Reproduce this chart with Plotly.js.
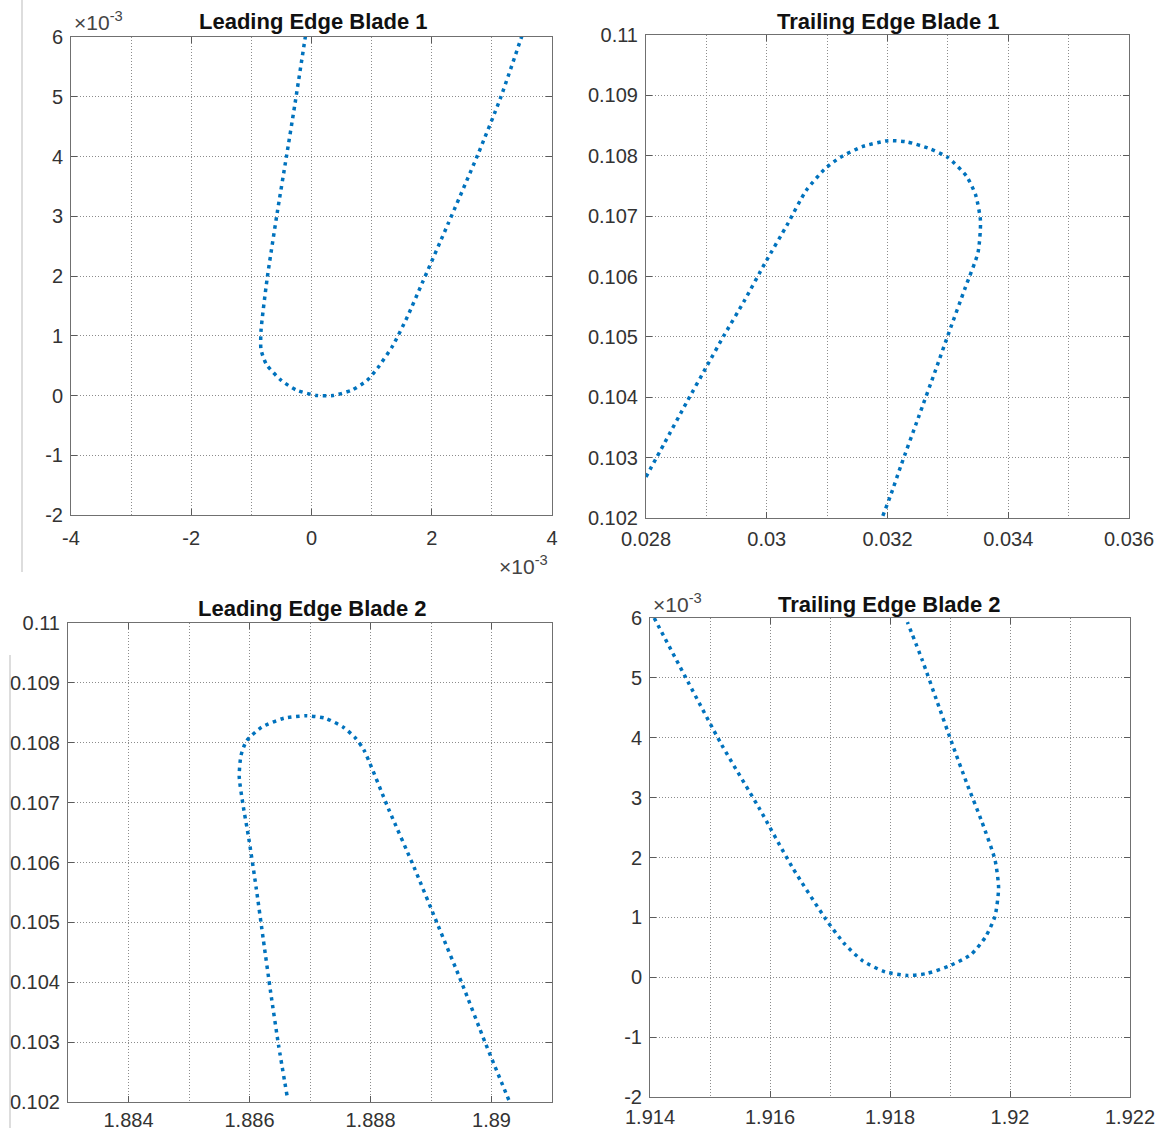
<!DOCTYPE html>
<html>
<head>
<meta charset="utf-8">
<script src="https://cdn.plot.ly/plotly-3.0.1.min.js"></script>
<style>html,body{margin:0;padding:0;background:#fff;}#chart{width:1162px;height:1128px;}</style>
</head>
<body>
<div id="chart"></div>
<script>
// ---- Data ----
// Leading Edge Blade 1 (both axes in units of 1e-3)
const le1X = [-0.10, -0.28, -0.42, -0.57, -0.74, -0.84, -0.84, -0.75, -0.50, -0.25, 0.09, 0.36, 0.67, 0.92, 1.10, 1.35, 1.60, 1.84, 2.27, 2.77, 3.14, 3.50];
const le1Y = [6.02, 4.85, 3.98, 3.06, 1.94, 1.08, 0.77, 0.52, 0.25, 0.09, 0.00, 0.00, 0.09, 0.25, 0.46, 0.83, 1.33, 1.88, 2.87, 4.04, 4.97, 6.02];

// Trailing Edge Blade 1
const te1X = [0.02800, 0.02830, 0.02867, 0.02901, 0.02929, 0.02963, 0.02997, 0.03034, 0.03065, 0.03096, 0.03121, 0.03158, 0.03201, 0.03232, 0.03269, 0.03300, 0.03331, 0.03346, 0.03354, 0.03350, 0.03329, 0.03302, 0.03280, 0.03251, 0.03222, 0.03205, 0.03192];
const te1Y = [0.10268, 0.10323, 0.10391, 0.10452, 0.10502, 0.10560, 0.10622, 0.10686, 0.10742, 0.10778, 0.10797, 0.10815, 0.10825, 0.10823, 0.10812, 0.10797, 0.10766, 0.10735, 0.10692, 0.10640, 0.10582, 0.10508, 0.10446, 0.10366, 0.10286, 0.10237, 0.10203];

// Leading Edge Blade 2
const le2X = [1.88662, 1.88648, 1.88635, 1.88623, 1.88611, 1.88599, 1.88589, 1.88583, 1.88586, 1.88595, 1.88620, 1.88657, 1.88694, 1.88725, 1.88755, 1.88775, 1.88789, 1.88830, 1.88872, 1.88912, 1.88952, 1.88990, 1.89030];
const le2Y = [0.10211, 0.10295, 0.10383, 0.10470, 0.10558, 0.10639, 0.10698, 0.10744, 0.10779, 0.10803, 0.10826, 0.10841, 0.10845, 0.10841, 0.10826, 0.10808, 0.10788, 0.10689, 0.10592, 0.10494, 0.10396, 0.10298, 0.10200];

// Trailing Edge Blade 2 (y in units of 1e-3)
const te2X = [1.91407, 1.91463, 1.91519, 1.91581, 1.91637, 1.91693, 1.91724, 1.91755, 1.91792, 1.91829, 1.91860, 1.91897, 1.91935, 1.91959, 1.91975, 1.91981, 1.91975, 1.91953, 1.91928, 1.91904, 1.91879, 1.91854, 1.91829];
const te2Y = [6.00, 4.94, 3.89, 2.84, 1.84, 0.97, 0.56, 0.27, 0.09, 0.03, 0.06, 0.18, 0.38, 0.67, 1.02, 1.49, 1.96, 2.60, 3.24, 3.89, 4.59, 5.29, 5.93];

// Titles
const titles = ["Leading Edge Blade 1", "Trailing Edge Blade 1", "Leading Edge Blade 2", "Trailing Edge Blade 2"];

// Tick values / labels
const p1xTicks = [-4, -2, 0, 2, 4];          const p1xText = ["-4", "-2", "0", "2", "4"];
const p1yTicks = [-2, -1, 0, 1, 2, 3, 4, 5, 6]; const p1yText = ["-2", "-1", "0", "1", "2", "3", "4", "5", "6"];
const p2xTicks = [0.028, 0.030, 0.032, 0.034, 0.036]; const p2xText = ["0.028", "0.03", "0.032", "0.034", "0.036"];
const p2yTicks = [0.102, 0.103, 0.104, 0.105, 0.106, 0.107, 0.108, 0.109, 0.110];
const p2yText = ["0.102", "0.103", "0.104", "0.105", "0.106", "0.107", "0.108", "0.109", "0.11"];
const p3xTicks = [1.884, 1.886, 1.888, 1.890]; const p3xText = ["1.884", "1.886", "1.888", "1.89"];
const p3yTicks = p2yTicks; const p3yText = p2yText;
const p4xTicks = [1.914, 1.916, 1.918, 1.920, 1.922]; const p4xText = ["1.914", "1.916", "1.918", "1.92", "1.922"];
const p4yTicks = p1yTicks; const p4yText = p1yText;
const exponentLabel = "×10<sup>-3</sup>";

// ---- Layout helpers ----
const W = 1162, H = 1128;
const fx = px => px / W;
const fy = py => 1 - py / H;
const FONT = "Liberation Sans, Arial, Helvetica, sans-serif";
const lineColor = "#0072BD";
const gridColor = "#8c8c8c";

function trace(x, y, xa, ya) {
  return {
    x: x, y: y, xaxis: xa, yaxis: ya, type: "scatter", mode: "lines",
    line: { color: lineColor, width: 3.5, dash: "3.5px,4.5px", shape: "spline", smoothing: 0.6 },
    hoverinfo: "skip", showlegend: false
  };
}

function axis(domain, range, tickvals, ticktext, anchor, standoff, minorDtick) {
  const a = {
    domain: domain, range: range, anchor: anchor, autorange: false,
    tickmode: "array", tickvals: tickvals, ticktext: ticktext,
    ticks: "inside", ticklen: 6, tickwidth: 1, tickcolor: "#5a5a5a",
    showline: true, mirror: "ticks", linecolor: "#707070", linewidth: 1,
    showgrid: true, gridcolor: gridColor, gridwidth: 1, griddash: "1px,2px",
    zeroline: false, fixedrange: true,
    ticklabelstandoff: standoff,
    tickfont: { family: FONT, size: 20, color: "#333333" }
  };
  if (minorDtick) {
    a.minor = { dtick: minorDtick, tick0: range[0], showgrid: true, gridcolor: gridColor, gridwidth: 1, griddash: "1px,2px", ticks: "" };
  }
  return a;
}

const data = [
  trace(le1X, le1Y, "x", "y"),
  trace(te1X, te1Y, "x2", "y2"),
  trace(le2X, le2Y, "x3", "y3"),
  trace(te2X, te2Y, "x4", "y4")
];

const layout = {
  width: W, height: H,
  margin: { l: 0, r: 0, t: 0, b: 0 },
  paper_bgcolor: "#ffffff", plot_bgcolor: "#ffffff",
  showlegend: false,
  font: { family: FONT, color: "#333333" },
  xaxis:  axis([fx(71), fx(552)],   [-4, 4],         p1xTicks, p1xText, "y",  5, 1),
  yaxis:  axis([fy(515), fy(37)],   [-2, 6],         p1yTicks, p1yText, "x",  3),
  xaxis2: axis([fx(646), fx(1129)], [0.028, 0.036],  p2xTicks, p2xText, "y2", 3, 0.001),
  yaxis2: axis([fy(518), fy(35)],   [0.102, 0.110],  p2yTicks, p2yText, "x2", 3),
  xaxis3: axis([fx(68), fx(552)],   [1.883, 1.891],  p3xTicks, p3xText, "y3", 0, 0.001),
  yaxis3: axis([fy(1102), fy(623)], [0.102, 0.110],  p3yTicks, p3yText, "x3", 3),
  xaxis4: axis([fx(650), fx(1130)], [1.914, 1.922],  p4xTicks, p4xText, "y4", 2, 0.001),
  yaxis4: axis([fy(1097), fy(618)], [-2, 6],         p4yTicks, p4yText, "x4", 3),
  annotations: [
    { text: "<b>" + titles[0] + "</b>", x: fx(313), y: fy(22) },
    { text: "<b>" + titles[1] + "</b>", x: fx(888), y: fy(22) },
    { text: "<b>" + titles[2] + "</b>", x: fx(312), y: fy(608) },
    { text: "<b>" + titles[3] + "</b>", x: fx(889), y: fy(604) }
  ].map(a => Object.assign({ xref: "paper", yref: "paper", xanchor: "center", yanchor: "middle", showarrow: false,
      font: { family: FONT, size: 22, color: "#111111" } }, a)).concat([
    { text: exponentLabel, x: fx(72), y: fy(21) },
    { text: exponentLabel, x: fx(497), y: fy(565) },
    { text: exponentLabel, x: fx(651), y: fy(603) }
  ].map(a => Object.assign({ xref: "paper", yref: "paper", xanchor: "left", yanchor: "middle", showarrow: false,
      font: { family: FONT, size: 21, color: "#444444" } }, a))),
  shapes: [
    { type: "line", xref: "paper", yref: "paper", x0: fx(22), x1: fx(22), y0: fy(0), y1: fy(572), line: { color: "#bbbbbb", width: 1 } },
    { type: "line", xref: "paper", yref: "paper", x0: fx(10), x1: fx(10), y0: fy(655), y1: fy(1128), line: { color: "#bbbbbb", width: 1 } }
  ]
};

Plotly.newPlot("chart", data, layout, { staticPlot: true, displayModeBar: false });
</script>
</body>
</html>
